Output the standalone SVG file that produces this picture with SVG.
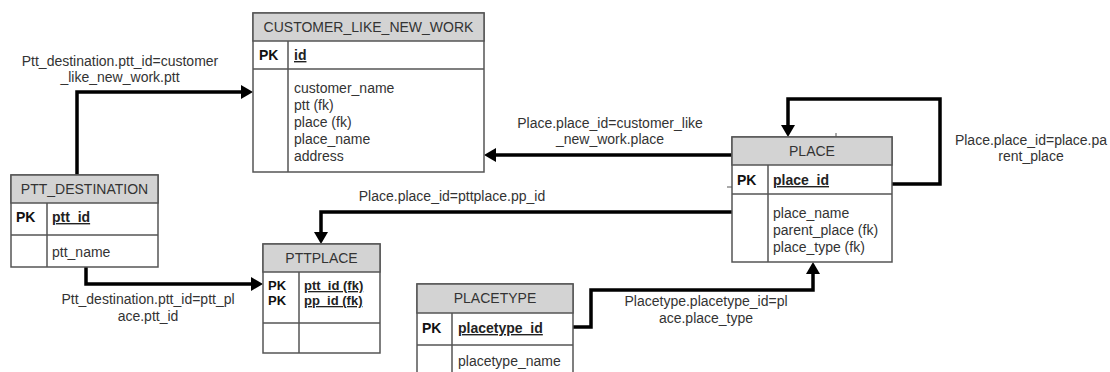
<svg xmlns="http://www.w3.org/2000/svg" width="1110" height="372" viewBox="0 0 1110 372">
<style>
.bx{fill:#fff;stroke:#555;stroke-width:1.5}
.hd{fill:#d3d3d3;stroke:#555;stroke-width:1.5}
.ln{stroke:#555;stroke-width:1.5;fill:none}
text{font-family:"Liberation Sans",Arial,sans-serif;font-size:14px;fill:#333}
.c{text-anchor:middle}
.pk{font-weight:bold;fill:#111}
.key{font-weight:bold;fill:#222;text-decoration:underline}
.sm{font-size:13px}
.conn{fill:none;stroke:#000;stroke-width:3.5;stroke-linejoin:miter}
.tick{stroke:#555;stroke-width:1}
</style>
<defs>
<marker id="ar" viewBox="0 0 12 14" refX="0" refY="7" markerWidth="12" markerHeight="14" markerUnits="userSpaceOnUse" orient="auto">
<path d="M0,0 L12,7 L0,14 Z" fill="#000"/>
</marker>
</defs>

<g id="connectors">
<path class="conn" d="M77,175 V92 H241" marker-end="url(#ar)"/>
<path class="conn" d="M732,155 H496" marker-end="url(#ar)"/>
<path class="conn" d="M732,212 H321 V232" marker-end="url(#ar)"/>
<path class="conn" d="M86,267 V284 H251" marker-end="url(#ar)"/>
<path class="conn" d="M573,327 H591 V290 H813 V274" marker-end="url(#ar)"/>
<path class="conn" d="M892,184 H940 V99 H788 V125" marker-end="url(#ar)"/>
<text class="c" x="120" y="66">Ptt_destination.ptt_id=customer</text>
<text class="c" x="120" y="82">_like_new_work.ptt</text>
<text class="c" x="610" y="128">Place.place_id=customer_like</text>
<text class="c" x="610" y="144">_new_work.place</text>
<text class="c" x="452" y="201">Place.place_id=pttplace.pp_id</text>
<text class="c" x="148" y="304">Ptt_destination.ptt_id=ptt_pl</text>
<text class="c" x="148" y="321">ace.ptt_id</text>
<text class="c" x="706" y="306">Placetype.placetype_id=pl</text>
<text class="c" x="706" y="323">ace.place_type</text>
<text class="c" x="1031" y="145">Place.place_id=place.pa</text>
<text class="c" x="1031" y="161">rent_place</text>
</g>

<g id="customer_like_new_work">
<rect class="bx" x="253" y="13" width="231" height="159"/>
<rect class="hd" x="253" y="13" width="231" height="28"/>
<line class="ln" x1="253" y1="69" x2="484" y2="69"/>
<line class="ln" x1="288" y1="41" x2="288" y2="172"/>
<text class="c" x="368.5" y="32">CUSTOMER_LIKE_NEW_WORK</text>
<text class="pk" x="259" y="60">PK</text>
<text class="key" x="294" y="60">id</text>
<text x="294" y="93">customer_name</text>
<text x="294" y="110">ptt (fk)</text>
<text x="294" y="127">place (fk)</text>
<text x="294" y="144">place_name</text>
<text x="294" y="161">address</text>
</g>

<g id="ptt_destination">
<rect class="bx" x="11" y="175" width="147" height="92"/>
<rect class="hd" x="11" y="175" width="147" height="28"/>
<line class="ln" x1="11" y1="235" x2="158" y2="235"/>
<line class="ln" x1="47" y1="203" x2="47" y2="267"/>
<text class="c" x="84.5" y="194">PTT_DESTINATION</text>
<text class="pk" x="16" y="222">PK</text>
<text class="key" x="52" y="222">ptt_id</text>
<text x="52" y="257">ptt_name</text>
</g>

<g id="place">
<rect class="bx" x="732" y="137" width="160" height="125"/>
<rect class="hd" x="732" y="137" width="160" height="28"/>
<line class="ln" x1="732" y1="194" x2="892" y2="194"/>
<line class="ln" x1="768" y1="165" x2="768" y2="262"/>
<line class="tick" x1="836" y1="133" x2="836" y2="137"/>
<line class="tick" x1="727" y1="187" x2="732" y2="187"/>
<text class="c" x="812" y="156">PLACE</text>
<text class="pk" x="737" y="185">PK</text>
<text class="key" x="773" y="185">place_id</text>
<text x="773" y="218">place_name</text>
<text x="773" y="235">parent_place (fk)</text>
<text x="773" y="252">place_type (fk)</text>
</g>

<g id="pttplace">
<rect class="bx" x="263" y="244" width="117" height="109"/>
<rect class="hd" x="263" y="244" width="117" height="28"/>
<line class="ln" x1="263" y1="323" x2="380" y2="323"/>
<line class="ln" x1="299" y1="272" x2="299" y2="353"/>
<text class="c" x="321.5" y="263">PTTPLACE</text>
<text class="pk sm" x="268" y="290">PK</text>
<text class="pk sm" x="268" y="305">PK</text>
<text class="key sm" x="304" y="290">ptt_id (fk)</text>
<text class="key sm" x="304" y="305">pp_id (fk)</text>
</g>

<g id="placetype">
<rect class="bx" x="417" y="284" width="156" height="100"/>
<rect class="hd" x="417" y="284" width="156" height="29"/>
<line class="ln" x1="417" y1="345" x2="573" y2="345"/>
<line class="ln" x1="452" y1="313" x2="452" y2="384"/>
<text class="c" x="495" y="303">PLACETYPE</text>
<text class="pk" x="422" y="333">PK</text>
<text class="key" x="458" y="333">placetype_id</text>
<text x="458" y="366">placetype_name</text>
</g>
</svg>
